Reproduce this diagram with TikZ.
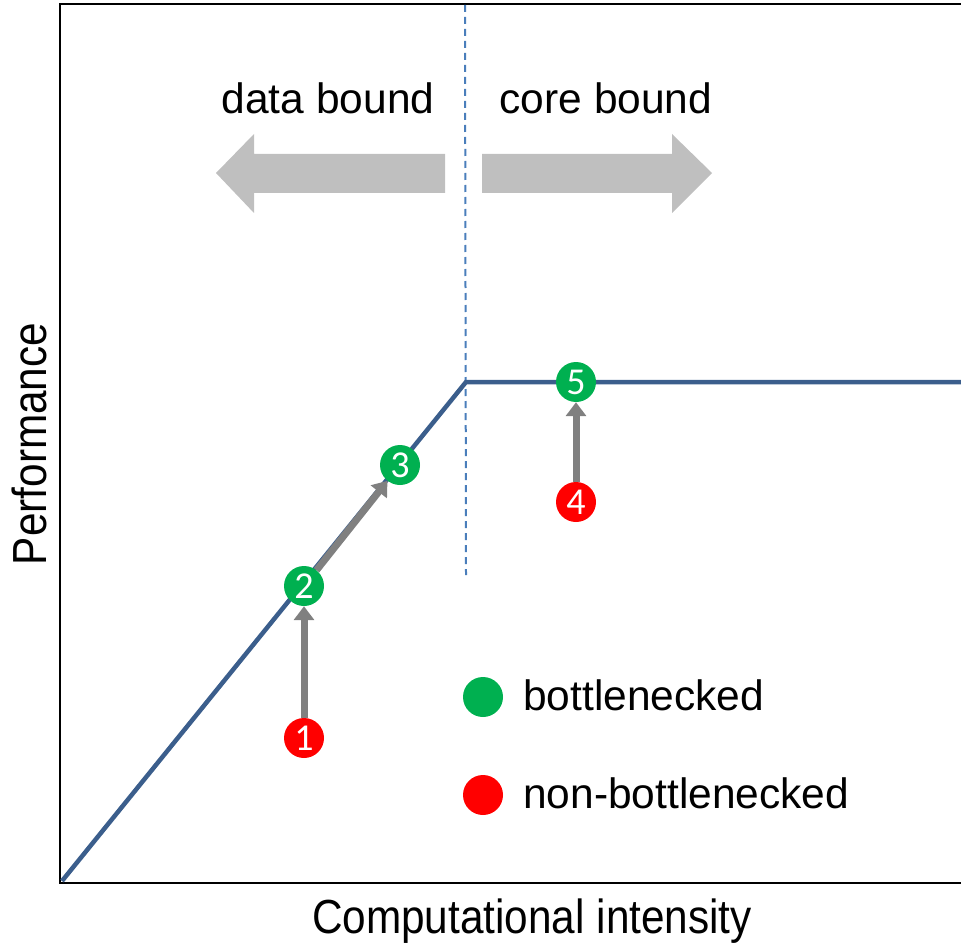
\documentclass[tikz,border=0pt]{standalone}
\usepackage{fontspec}
\setmainfont{Liberation Sans}
\newfontfamily\numfont{Carlito}
\usetikzlibrary{arrows.meta}
\definecolor{curveblue}{HTML}{3B5E8C}
\definecolor{dashblue}{HTML}{4A7EBB}
\definecolor{biggray}{HTML}{BFBFBF}
\definecolor{arrgray}{HTML}{808080}
\definecolor{okgreen}{HTML}{00B050}
\definecolor{badred}{HTML}{FF0000}
\tikzset{
  pt/.style={circle, minimum size=40pt, inner sep=0pt, text=white, font=\numfont\fontsize{38}{40}\selectfont},
  good/.style={pt, fill=okgreen},
  bad/.style={pt, fill=badred},
  move/.style={draw=arrgray, line width=7pt, -{Triangle[length=14pt,width=20pt]}},
  lbl/.style={font=\fontsize{42.5}{50}\selectfont, inner sep=0pt},
  axlbl/.style={font=\fontsize{46}{54}\selectfont, inner sep=0pt},
  bigarrow/.style={fill=biggray, draw=none}
}
\begin{document}
\begin{tikzpicture}[x=1pt,y=-1pt]
\useasboundingbox (0,0) rectangle (961,944);
% frame
\draw[line width=2.5pt, black] (961,4) -- (60,4) -- (60,883) -- (961,883);
% dashed divider
\coordinate (dtop) at (465,5);
\coordinate (dbot) at (466,575);
\draw[dashblue, line width=2pt, dash pattern=on 7pt off 5pt] (dtop) -- (dbot);
% roofline
\coordinate (o) at (62,881);
\coordinate (k) at (466,382);
\coordinate (e) at (961,382);
\draw[curveblue, line width=4.5pt, line join=miter] (o) -- (k) -- (e);
% big arrows
\fill[bigarrow] (216,173) -- (254,134) -- (254,154) -- (445,154) -- (445,193) -- (254,193) -- (254,213) -- cycle;
\fill[bigarrow] (712,173) -- (672,134) -- (672,154) -- (482,154) -- (482,193) -- (672,193) -- (672,213) -- cycle;
% labels
\node[lbl, anchor=base] (db) at (328,114) {data bound};
\node[lbl, anchor=base] (cb) at (606,114) {core bound};
\node[axlbl, anchor=base] (xl) at (532,933) {\scalebox{0.92}[1.04]{Computational intensity}};
\node[axlbl, anchor=base, rotate=90] (yl) at (46,444) {\scalebox{0.92}[1.04]{Performance}};
% points
\node[bad] (p1) at (304,738) {1};
\node[good] (p2) at (304,586) {2};
\node[good] (p3) at (400,465) {3};
\node[bad] (p4) at (576,502) {4};
\node[good] (p5) at (576,382) {5};
\draw[move] (p1) -- (p2);
\draw[move] (p2) -- (p3);
\draw[move] (p4) -- (p5);
% legend
\node[good] (lg) at (483,697) {};
\node[bad] (lr) at (483,795) {};
\node[lbl, anchor=base west] (lgt) at (523,710) {bottlenecked};
\node[lbl, anchor=base west] (lrt) at (523,808) {non-bottlenecked};
\end{tikzpicture}
\end{document}
